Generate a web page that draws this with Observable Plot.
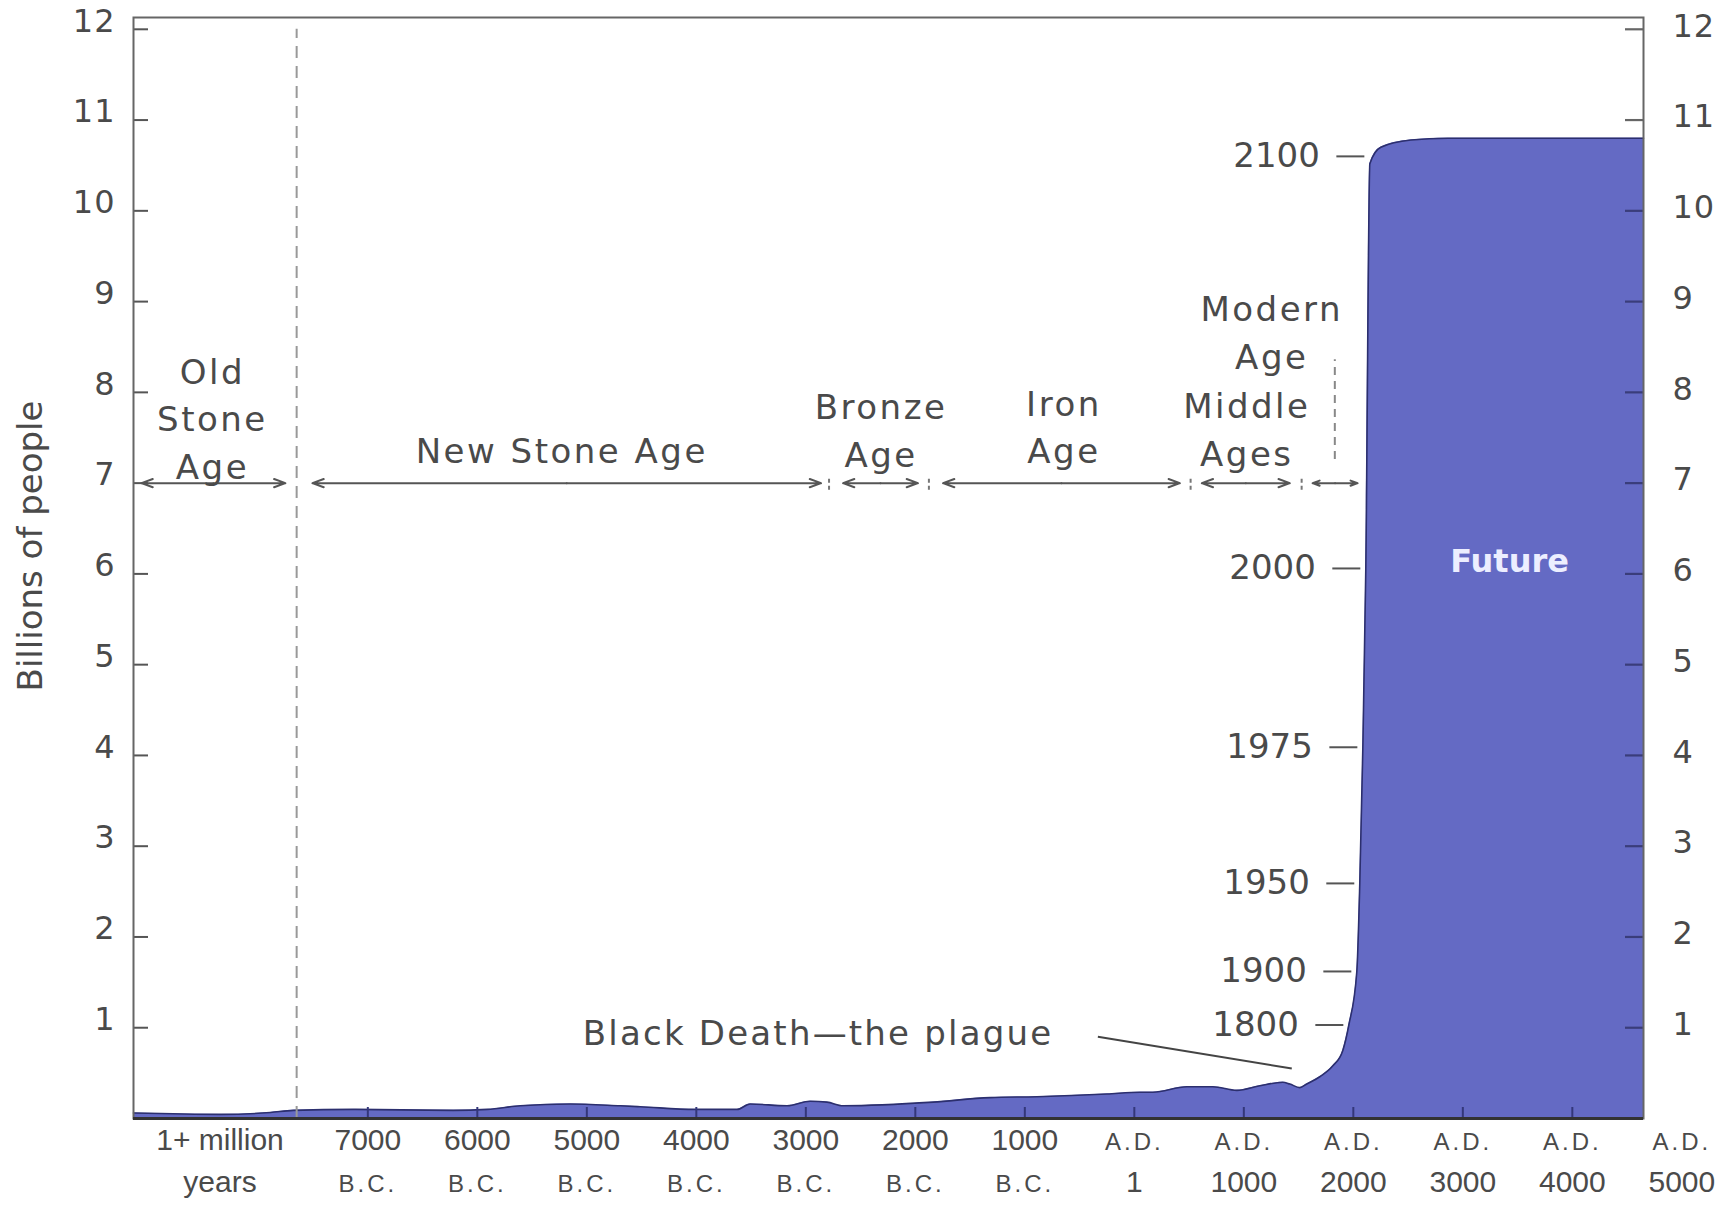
<!DOCTYPE html>
<html>
<head>
<meta charset="utf-8">
<script src="https://cdn.jsdelivr.net/npm/d3@7"></script>
<script src="https://cdn.jsdelivr.net/npm/@observablehq/plot@0.6"></script>
<style>
  html, body { margin: 0; padding: 0; background: #fff; }
  svg { display: block; }
</style>
</head>
<body>
<div id="chart"></div>
<script>
// ---------------- DATA ----------------
// x is the position along the drawn time axis (axis years; A.D. 1 = 0, B.C. negative)
const areaYear = [-9140, -8346, -7890, -7680, -7132, -6219, -5909, -5608, -5152, -4695, -4513, -4011, -3628, -3509, -3171, -2961, -2806, -2660, -1839, -1318, -889, -250, 51, 170, 479, 717, 936, 1146, 1356, 1420, 1511, 1575, 1694, 1813, 1904, 1959, 2032, 2059, 2087, 2114, 2151, 2251, 2525, 2862, 4650];
const areaPop  = [0.06, 0.045, 0.066, 0.09, 0.1, 0.09, 0.1, 0.14, 0.16, 0.14, 0.13, 0.1, 0.1, 0.16, 0.14, 0.19, 0.18, 0.14, 0.18, 0.23, 0.24, 0.27, 0.29, 0.29, 0.35, 0.35, 0.31, 0.36, 0.4, 0.38, 0.34, 0.38, 0.46, 0.58, 0.75, 1.03, 1.62, 2.59, 4.09, 6.06, 10.52, 10.7, 10.78, 10.8, 10.8];

const yTicks = [1, 2, 3, 4, 5, 6, 7, 8, 9, 10, 11, 12];

const xTickYears = [-8350, -7000, -6000, -5000, -4000, -3000, -2000, -1000, 0, 1000, 2000, 3000, 4000, 5000];
const xTickLine1 = ["1+ million", "7000", "6000", "5000", "4000", "3000", "2000", "1000", "A.D.", "A.D.", "A.D.", "A.D.", "A.D.", "A.D."];
const xTickLine2 = ["years", "B.C.", "B.C.", "B.C.", "B.C.", "B.C.", "B.C.", "B.C.", "1", "1000", "2000", "3000", "4000", "5000"];
const xTickMarks = [-7000, -6000, -5000, -4000, -3000, -2000, -1000, 0, 1000, 2000, 3000, 4000];

const eraNames  = ["Old\nStone\nAge", "New Stone Age", "Bronze\nAge", "Iron\nAge", "Middle\nAges", "Modern\nAge"];
const eraStart  = [-9067, -7506, -2660, -1747, 616, 1628];
const eraEnd    = [-7753, -2861, -1976, 416, 1420, 2039];
const eraLabelX = [-8419, -5229, -2313, -643, 1027, 1255];
const eraLabelY = [7.74, 7.39, 7.61, 7.65, 7.62, 8.69];
const eraLevel = 7;
const eraBoundaries = [-2788, -1876, 514, 1528];
const oldStoneEnd = -7650;
const modernDash = {x: 1831, y1: 7.26, y2: 8.36};

const msLabel = ["1800", "1900", "1950", "1975", "2000", "2100"];
const msPop   = [1.03, 1.62, 2.59, 4.09, 6.06, 10.6];
const msX     = [1959, 2032, 2059, 2087, 2114, 2151];

const plagueLabel = "Black Death\u2014the plague";
const plagueLabelPos = [-2888, 0.93];
const plagueLeader = [[-333, 0.9], [1438, 0.55]];

const futureLabel = "Future";
const futurePos = [3427, 6.13];

const yTitle = "Billions of people";

// ---------------- LAYOUT ----------------
const W = 1734, H = 1209;
const mL = 133, mR = 91, mT = 17, mB = 91;
const xDomain = [-9140, 4650];
const yDomain = [0, 12.13];
const yrPerPx = (xDomain[1] - xDomain[0]) / (W - mL - mR);
const valPerPx = (yDomain[1] - yDomain[0]) / (H - mT - mB);

const area = areaYear.map((x, i) => ({x, pop: areaPop[i]}));
const xLabels = xTickYears.map((x, i) => ({x, l1: xTickLine1[i], l2: xTickLine2[i]}));
const eras = eraNames.map((name, i) => ({name, start: eraStart[i], end: eraEnd[i], lx: eraLabelX[i], ly: eraLabelY[i]}));
const arrowSegs = eras.flatMap(e => {
  const mid = (e.start + e.end) / 2;
  return [{x1: mid, x2: e.start}, {x1: mid, x2: e.end}];
});
const milestones = msLabel.map((label, i) => ({label, pop: msPop[i], x: msX[i]}));

const textColor = "#4a4a4a";
const smallWord = s => s === "B.C." || s === "A.D.";

// text marks, kept in a list so their rendered groups can be styled in order
const textMarks = {
  yLeft: Plot.text(yTicks, {y: d => d, frameAnchor: "left", text: d => String(d), textAnchor: "end", dx: -18, dy: -8, fontSize: 32, fill: textColor}),
  yRight: Plot.text(yTicks, {y: d => d, frameAnchor: "right", text: d => String(d), textAnchor: "start", dx: 29, dy: -3, fontSize: 32, fill: textColor}),
  yTitle: Plot.text([yTitle], {frameAnchor: "left", text: d => d, rotate: -90, textAnchor: "middle", dx: -102, dy: -22, fontSize: 34, fill: textColor}),
  xLab1: Plot.text(xLabels, {x: "x", frameAnchor: "bottom", text: "l1", textAnchor: "middle", dy: 31, fontSize: d => smallWord(d.l1) ? 24 : 30, fill: textColor, fontFamily: "Liberation Sans"}),
  xLab2: Plot.text(xLabels, {x: "x", frameAnchor: "bottom", text: "l2", textAnchor: "middle", dy: 73, fontSize: d => smallWord(d.l2) ? 24 : 30, fill: textColor, fontFamily: "Liberation Sans"}),
  eras: Plot.text(eras, {x: "lx", y: "ly", text: "name", lineAnchor: "middle", lineHeight: 1.4, fontSize: 34, fill: textColor}),
  milestones: Plot.text(milestones, {x: "x", y: "pop", text: "label", textAnchor: "end", dx: -50, fontSize: 34, fill: textColor}),
  plague: Plot.text([plagueLabel], {x: plagueLabelPos[0], y: plagueLabelPos[1], text: d => d, fontSize: 34, fill: textColor}),
  future: Plot.text([futureLabel], {x: futurePos[0], y: futurePos[1], text: d => d, fontSize: 32, fontWeight: "bold", fill: "#eceeff"})
};
const letterSpacing = {yLeft: "1px", yRight: "1px", eras: "2.5px", plague: "2.2px"};

const svg = Plot.plot({
  width: W,
  height: H,
  marginLeft: mL,
  marginRight: mR,
  marginTop: mT,
  marginBottom: mB,
  x: {domain: xDomain, axis: null},
  y: {domain: yDomain, axis: null},
  style: {background: "#fff", fontFamily: "DejaVu Sans"},
  marks: [
    Plot.areaY(area, {x: "x", y: "pop", fill: "#646ac4", curve: "monotone-x"}),
    Plot.line(area, {x: "x", y: "pop", stroke: "#2c2f6e", strokeWidth: 1.6, curve: "monotone-x"}),
    // inward x tick marks
    Plot.ruleX(xTickMarks, {y1: 0, y2: 11 * valPerPx, stroke: "#34377a", strokeWidth: 2}),
    // inward y ticks, left and right
    Plot.ruleY(yTicks, {x1: xDomain[0], x2: xDomain[0] + 15 * yrPerPx, stroke: "#555", strokeWidth: 2}),
    Plot.ruleY(yTicks, {x1: xDomain[1] - 18 * yrPerPx, x2: xDomain[1], stroke: d => d > 10.8 ? "#666" : "#3a3d7a", strokeWidth: 2.2}),
    // Old Stone Age boundary
    Plot.ruleX([oldStoneEnd], {y1: 0, y2: 12, stroke: "#999", strokeWidth: 2, strokeDasharray: "12,8"}),
    // Middle / Modern dashed marker
    Plot.ruleX([modernDash], {x: "x", y1: "y1", y2: "y2", stroke: "#888", strokeWidth: 2, strokeDasharray: "8,6"}),
    // era arrows
    Plot.arrow(arrowSegs, {x1: "x1", x2: "x2", y1: eraLevel, y2: eraLevel, stroke: "#555", strokeWidth: 2, headLength: 9, headAngle: 40}),
    Plot.ruleX(eraBoundaries, {y1: eraLevel - 7 * valPerPx, y2: eraLevel + 7 * valPerPx, stroke: "#777", strokeWidth: 2, strokeDasharray: "4,3"}),
    // frame and baseline
    Plot.frame({stroke: "#666", strokeWidth: 2}),
    Plot.ruleY([0], {stroke: "#333", strokeWidth: 3}),
    // milestone dashes along the curve
    Plot.ruleY(milestones, {y: "pop", x1: d => d.x - 33 * yrPerPx, x2: d => d.x - 5 * yrPerPx, stroke: "#555", strokeWidth: 2}),
    // Black Death leader
    Plot.link([plagueLeader], {x1: d => d[0][0], y1: d => d[0][1], x2: d => d[1][0], y2: d => d[1][1], stroke: "#444", strokeWidth: 2}),
    ...Object.values(textMarks)
  ]
});

// style text groups (rendered in the same order as textMarks)
const textGroups = Array.from(svg.querySelectorAll(':scope > g[aria-label="text"]'));
Object.keys(textMarks).forEach((key, i) => {
  const g = textGroups[i];
  if (!g) return;
  if (letterSpacing[key]) g.style.letterSpacing = letterSpacing[key];
  if (key === "xLab1" || key === "xLab2") {
    g.querySelectorAll("text").forEach(t => {
      if (smallWord(t.textContent)) t.style.letterSpacing = "3px";
    });
  }
});

document.getElementById("chart").appendChild(svg);
</script>
</body>
</html>
